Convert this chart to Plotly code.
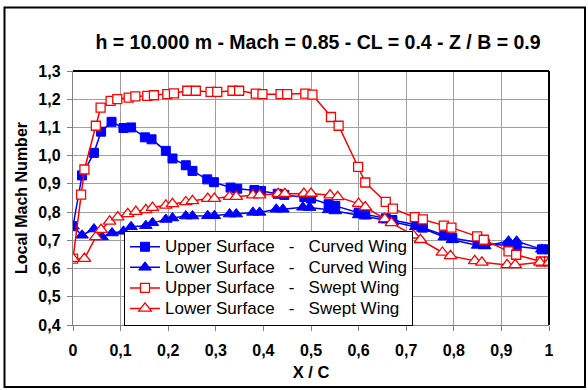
import plotly.graph_objects as go

NB = "\u00a0"

# Upper Surface - Curved Wing
x_us_c = [0, 0.019, 0.044, 0.059, 0.081, 0.106, 0.122, 0.151, 0.165, 0.195, 0.209, 0.237, 0.251,
          0.282, 0.296, 0.331, 0.345, 0.381, 0.395, 0.43, 0.444, 0.486, 0.5, 0.537, 0.551, 0.6,
          0.614, 0.657, 0.671, 0.72, 0.735, 0.78, 0.797, 0.85, 0.865, 0.915, 0.932, 0.985, 1.0]
y_us_c = [0.75, 0.93, 1.01, 1.085, 1.12, 1.098, 1.10, 1.065, 1.058, 1.017, 0.99, 0.966, 0.946,
          0.916, 0.906, 0.887, 0.883, 0.878, 0.875, 0.865, 0.861, 0.853, 0.848, 0.828, 0.822, 0.798,
          0.792, 0.778, 0.772, 0.755, 0.745, 0.718, 0.708, 0.692, 0.688, 0.682, 0.678, 0.668, 0.668]

# Lower Surface - Curved Wing
x_ls_c = [0, 0.019, 0.044, 0.061, 0.082, 0.106, 0.122, 0.153, 0.167, 0.195, 0.209, 0.237, 0.251,
          0.283, 0.297, 0.329, 0.343, 0.378, 0.392, 0.427, 0.441, 0.483, 0.497, 0.537, 0.551, 0.6,
          0.614, 0.655, 0.671, 0.72, 0.735, 0.78, 0.797, 0.85, 0.865, 0.915, 0.932, 0.985, 1.0]
y_ls_c = [0.75, 0.718, 0.74, 0.712, 0.726, 0.732, 0.748, 0.752, 0.762, 0.774, 0.779, 0.786, 0.786,
          0.787, 0.787, 0.793, 0.793, 0.799, 0.799, 0.81, 0.81, 0.817, 0.816, 0.808, 0.804, 0.79,
          0.786, 0.772, 0.766, 0.748, 0.742, 0.712, 0.702, 0.682, 0.68, 0.697, 0.697, 0.668, 0.668]

# Upper Surface - Swept Wing
x_us_s = [0, 0.017, 0.024, 0.048, 0.058, 0.079, 0.093, 0.117, 0.131, 0.156, 0.17, 0.198, 0.212,
          0.24, 0.258, 0.289, 0.303, 0.335, 0.349, 0.384, 0.398, 0.436, 0.45, 0.488, 0.503, 0.542,
          0.558, 0.599, 0.614, 0.657, 0.672, 0.718, 0.735, 0.779, 0.795, 0.849, 0.863, 0.915, 0.931,
          0.983, 1.0]
y_us_s = [0.635, 0.862, 0.951, 1.106, 1.17, 1.194, 1.2, 1.206, 1.21, 1.212, 1.214, 1.218, 1.221,
          1.23, 1.23, 1.226, 1.226, 1.23, 1.23, 1.22, 1.218, 1.218, 1.218, 1.22, 1.216, 1.137,
          1.106, 0.96, 0.905, 0.836, 0.812, 0.782, 0.774, 0.752, 0.745, 0.714, 0.702, 0.661, 0.649,
          0.625, 0.625]

# Lower Surface - Swept Wing
x_ls_s = [0, 0.024, 0.048, 0.059, 0.077, 0.094, 0.115, 0.132, 0.153, 0.167, 0.195, 0.209, 0.237,
          0.251, 0.283, 0.297, 0.329, 0.343, 0.378, 0.392, 0.431, 0.445, 0.485, 0.5, 0.54, 0.556,
          0.6, 0.614, 0.655, 0.669, 0.715, 0.73, 0.776, 0.793, 0.844, 0.859, 0.912, 0.929, 0.981, 1.0]
y_ls_s = [0.635, 0.635, 0.712, 0.738, 0.767, 0.782, 0.794, 0.802, 0.808, 0.816, 0.824, 0.829, 0.836,
          0.84, 0.848, 0.848, 0.855, 0.855, 0.86, 0.86, 0.865, 0.865, 0.866, 0.866, 0.86, 0.854,
          0.83, 0.818, 0.776, 0.762, 0.718, 0.702, 0.657, 0.645, 0.627, 0.622, 0.613, 0.613, 0.622, 0.622]

labels = [
    ("Upper Surface", "Curved Wing"),
    ("Lower Surface", "Curved Wing"),
    ("Upper Surface", "Swept Wing"),
    ("Lower Surface", "Swept Wing"),
]
GAP = NB * 3 + "-" + NB * 3
names = ['<span style="font-size:17px">' + a + GAP + b + "</span>" for a, b in labels]

FONT = "Arial, 'Liberation Sans', sans-serif"
BLUE = "#0000FF"
RED = "#FF0000"

fig = go.Figure()
fig.add_trace(go.Scatter(x=x_us_c, y=y_us_c, mode="lines+markers", name=names[0],
                         line=dict(color=BLUE, width=1.5),
                         marker=dict(symbol="square", size=9, color=BLUE, line=dict(color=BLUE, width=1))))
fig.add_trace(go.Scatter(x=x_ls_c, y=y_ls_c, mode="lines+markers", name=names[1],
                         line=dict(color=BLUE, width=1.5),
                         marker=dict(symbol="triangle-up", size=11, color=BLUE, line=dict(color=BLUE, width=1))))
fig.add_trace(go.Scatter(x=x_us_s, y=y_us_s, mode="lines+markers", name=names[2],
                         line=dict(color=RED, width=1.5),
                         marker=dict(symbol="square", size=9, color="white", line=dict(color=RED, width=1.3))))
fig.add_trace(go.Scatter(x=x_ls_s, y=y_ls_s, mode="lines+markers", name=names[3],
                         line=dict(color=RED, width=1.5),
                         marker=dict(symbol="triangle-up", size=11, color="white", line=dict(color=RED, width=1.3))))

L, R, T, B = 73, 549, 71, 325
W, H = 588, 390

def px_x(px):
    return (px - L) / (R - L)

def px_y(py):
    return (B - py) / (B - T)

fig.update_layout(
    width=W, height=H,
    margin=dict(l=L, r=W - R, t=T, b=H - B, pad=0),
    paper_bgcolor="white", plot_bgcolor="white",
    separators=", ",
    font=dict(family=FONT, color="black", size=15),
    title=dict(text="<b>h = 10.000 m - Mach = 0.85 - CL = 0.4 - Z / B = 0.9</b>",
               x=318 / W, xanchor="center", xref="container",
               y=1 - 42 / H, yanchor="middle", yref="container",
               font=dict(family=FONT, size=19.5, color="black")),
    showlegend=True,
    legend=dict(x=px_x(124), y=px_y(230.5), xanchor="left", yanchor="top",
                bgcolor="white", bordercolor="black", borderwidth=1,
                font=dict(family=FONT, size=13.5, color="black"),
                tracegroupgap=0, itemwidth=30),
    xaxis=dict(range=[0, 1], dtick=0.1, tick0=0, showgrid=True, gridcolor="#a0a0a0", gridwidth=1.4,
               showline=True, linecolor="#808080", linewidth=1.4, ticks="outside", ticklen=5,
               tickcolor="#808080", zeroline=False, ticklabelstandoff=6, automargin=False,
               tickfont=dict(family=FONT, size=16, color="black", weight="bold"),
               title=dict(text="<b>X / C</b>", font=dict(family=FONT, size=16.5, color="black", weight="bold"),
                          standoff=8)),
    yaxis=dict(range=[0.4, 1.3], dtick=0.1, tick0=0.4, tickformat=".1f", showgrid=True,
               gridcolor="#a0a0a0", gridwidth=1.4,
               showline=True, linecolor="#808080", linewidth=1.4, ticks="outside", ticklen=5,
               tickcolor="#808080", zeroline=False, ticklabelstandoff=3, automargin=False,
               tickfont=dict(family=FONT, size=16, color="black", weight="bold"),
               title=dict(text="<b>Local Mach Number</b>",
                          font=dict(family=FONT, size=16, color="black", weight="bold"),
                          standoff=6)),
)

# Excel-like black frame on top and right of the plot area
fig.add_shape(type="line", xref="paper", yref="paper", x0=0, x1=1, y0=1, y1=1,
              line=dict(color="black", width=2))
fig.add_shape(type="line", xref="paper", yref="paper", x0=1, x1=1, y0=0, y1=1,
              line=dict(color="black", width=2))
# Outer chart border
fig.add_shape(type="rect", xref="paper", yref="paper",
              x0=px_x(4.5), x1=px_x(585), y0=px_y(387), y1=px_y(7.5),
              line=dict(color="black", width=2), fillcolor="rgba(0,0,0,0)", layer="below")

fig.write_html("out.html")
